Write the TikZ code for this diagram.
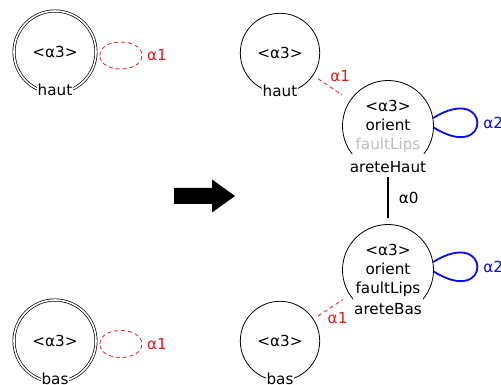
\documentclass[tikz,border=0pt]{standalone}
\usepackage{fontspec}
\setmainfont{DejaVu Sans}
\usetikzlibrary{positioning}
\definecolor{alphaRed}{RGB}{222,28,28}
\definecolor{alphaBlue}{RGB}{10,10,245}
\definecolor{faultGray}{RGB}{190,190,190}

\begin{document}
\begin{tikzpicture}[
  x=1pt, y=1pt,
  font=\fontsize{15.2}{19}\selectfont,
  state/.style={draw, circle, line width=0.8pt, inner sep=0pt,
    minimum size=79.4pt, align=center},
  stateInit/.style={state, double, line width=0.7pt, double distance=1.6pt,
    minimum size=82pt},
  stateArete/.style={state, minimum size=91pt},
  tag/.style={fill=white, inner sep=1pt, anchor=base},
  areteTag/.style={tag, text height=17pt},
  redLbl/.style={text=alphaRed, inner sep=1pt},
  blueLbl/.style={text=alphaBlue, inner sep=1pt},
  dashEdge/.style={draw=alphaRed, line width=0.8pt, dash pattern=on 4pt off 3pt},
  loopEdge/.style={draw=alphaBlue, line width=1.8pt},
  linkEdge/.style={draw, line width=1.6pt}
]
\useasboundingbox (0,0) rectangle (501,385);

% left hand side
\node[stateInit] (hautInit) at (55,333) {<α3>};
\node[stateInit] (basInit) at (55,44) {<α3>};
\node[tag] (hautInitTag) at ([yshift=-44pt]hautInit.center) {haut};
\node[tag] (basInitTag) at ([yshift=-44pt]basInit.center) {bas};

\coordinate (hautLoopW) at ([shift={(3.5pt,-3.5pt)}]hautInit.east);
\coordinate (hautLoopE) at ([xshift=42pt]hautLoopW);
\coordinate (basLoopW) at ([shift={(3.5pt,-3pt)}]basInit.east);
\coordinate (basLoopE) at ([xshift=42pt]basLoopW);
\draw[dashEdge] (hautLoopW) .. controls +(0,18) and +(0,18) .. (hautLoopE)
  .. controls +(0,-18) and +(0,-18) .. (hautLoopW);
\draw[dashEdge] (basLoopW) .. controls +(0,18) and +(0,18) .. (basLoopE)
  .. controls +(0,-18) and +(0,-18) .. (basLoopW);
\node[redLbl, anchor=west] (hautLoopLbl) at ([xshift=4pt]hautLoopE) {α1};
\node[redLbl, anchor=west] (basLoopLbl) at ([xshift=4pt]basLoopE) {α1};

% rule arrow
\fill (174,197) -- (212,197) -- (212,205.5) -- (235,189) -- (212,172.5)
  -- (212,181) -- (174,181) -- cycle;

% right hand side
\node[state] (haut) at (280,332) {<α3>};
\node[state] (bas) at (280,44) {<α3>};
\node[stateArete] (areteHaut) at (388,259)
  {<α3>\\orient\\{\color{faultGray}faultLips}};
\node[stateArete] (areteBas) at (388,115) {<α3>\\orient\\faultLips};
\node[tag] (hautTag) at ([yshift=-44pt]haut.center) {haut};
\node[tag] (basTag) at ([yshift=-44pt]bas.center) {bas};
\node[areteTag] (areteHautTag) at ([yshift=-46.5pt]areteHaut.center) {areteHaut};
\node[areteTag] (areteBasTag) at ([yshift=-45pt]areteBas.center) {areteBas};

\draw[dashEdge, shorten <=6pt, shorten >=9.4pt] (haut) --
  node[redLbl, xshift=8.5pt, yshift=12pt] (a1Haut) {α1} (areteHaut);
\draw[dashEdge, shorten <=5.5pt, shorten >=8pt] (bas) --
  node[redLbl, xshift=6pt, yshift=-11pt] (a1Bas) {α1} (areteBas);
\draw[linkEdge, shorten <=5.5pt, shorten >=6.5pt] (areteHaut) --
  node[anchor=west, inner sep=1pt, xshift=9pt] (a0Link) {α0} (areteBas);

\draw[loopEdge] (areteHaut.10) .. controls +(32:69) and +(-32:69) ..
  node[blueLbl, anchor=west, pos=.5, xshift=4pt] (a2Haut) {α2} (areteHaut.-2);
\draw[loopEdge] (areteBas.10) .. controls +(32:69) and +(-32:69) ..
  node[blueLbl, anchor=west, pos=.5, xshift=4pt] (a2Bas) {α2} (areteBas.-2);
\end{tikzpicture}
\end{document}
